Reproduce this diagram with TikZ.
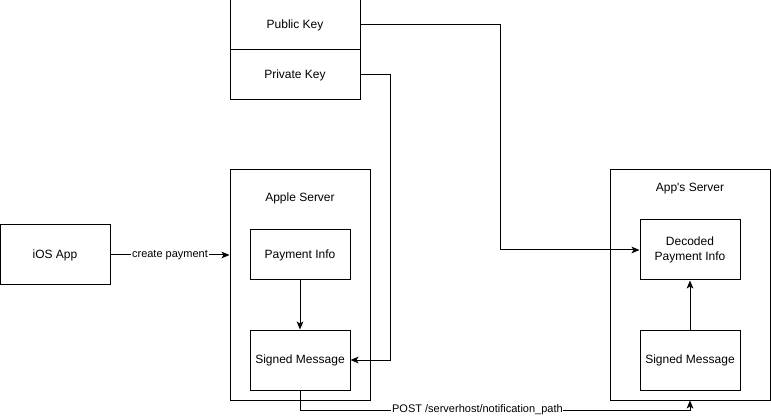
\documentclass[tikz,border=0pt]{standalone}
\usepackage{fontspec}
\setmainfont{Liberation Sans}
\usetikzlibrary{arrows.meta}
\begin{document}
\begin{tikzpicture}[x=0.75pt,y=-0.75pt,
  box/.style={draw,line width=0.75pt,inner sep=0pt,font=\fontsize{9}{11}\selectfont,align=center},
  conn/.style={line width=0.75pt,-{Stealth[length=6pt,width=5pt,inset=1.5pt]}},
  lbl/.style={font=\fontsize{8.25}{10}\selectfont,fill=white,inner sep=0.5pt}]
\useasboundingbox (0,0) rectangle (771,420);
% key boxes
\node[box,minimum width=97.5pt,minimum height=37.5pt] (pub) at (295,25) {Public Key};
\node[box,minimum width=97.5pt,minimum height=37.5pt] (priv) at (295,75) {Private Key};
% apple server
\node[box,minimum width=105pt,minimum height=172.5pt] (apple) at (300,285) {};
\node[font=\fontsize{9}{11}\selectfont] (applelbl) at (300,198) {Apple Server};
\node[box,minimum width=75pt,minimum height=37.5pt] (pay) at (300,255) {Payment Info};
\node[box,minimum width=75pt,minimum height=45pt] (sigL) at (300,360) {Signed Message};
% ios
\node[box,minimum width=82.5pt,minimum height=45pt] (ios) at (55,255) {iOS App};
% app server
\node[box,minimum width=120pt,minimum height=172.5pt] (apps) at (690,285) {};
\node[font=\fontsize{9}{11}\selectfont] (appslbl) at (690,189) {App\textquotesingle s Server};
\node[box,minimum width=75pt,minimum height=45pt] (dec) at (690,250) {Decoded\\Payment Info};
\node[box,minimum width=75pt,minimum height=45pt] (sigR) at (690,360) {Signed Message};
% connectors
\coordinate (pk1) at (500,25);
\coordinate (pk2) at (500,250);
\draw[conn] (pub.east) -- (pk1) -- (pk2) -- (dec.west);
\coordinate (rk1) at (390,75);
\coordinate (rk2) at (390,360);
\draw[conn] (priv.east) -- (rk1) -- (rk2) -- (sigL.east);
\draw[conn] (ios.east) -- node[lbl] {create payment} (apple.west|-ios.east);
\draw[conn] (pay.south) -- (sigL.north);
\draw[conn] (sigR.north) -- (dec.south);
\coordinate (p1) at (300,410);
\coordinate (p2) at (690,410);
\draw[conn] (sigL.south) -- (p1) -- node[lbl,pos=0.455] {POST /serverhost/notification\_path} (p2) -- (apps.south);
\end{tikzpicture}
\end{document}
